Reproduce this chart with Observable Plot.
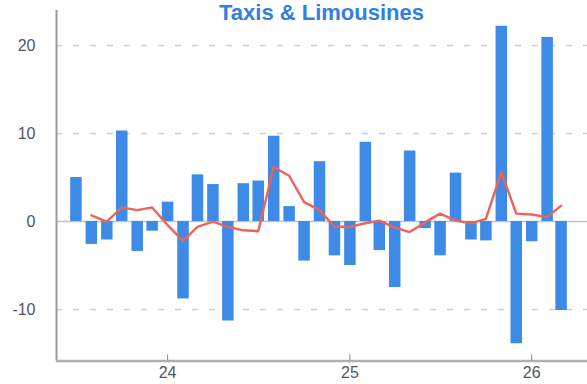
<!DOCTYPE html>
<html>
<head>
<meta charset="utf-8">
<script src="https://cdn.jsdelivr.net/npm/d3@7"></script>
<script src="https://cdn.jsdelivr.net/npm/@observablehq/plot@0.6"></script>
<style>
  html, body { margin: 0; padding: 0; background: #fff; overflow: hidden; }
  #wrap { position: relative; width: 587px; height: 384px; overflow: hidden; }
  #title { position: absolute; top: 0px; left: 56px; width: 531px; text-align: center;
           font: bold 22px "Liberation Sans", Arial, sans-serif; line-height: 26px; color: #2f80e4; }
</style>
</head>
<body>
<div id="wrap">
  <div id="chart"></div>
  <div id="title">Taxis &amp; Limousines</div>
</div>
<script>
const titleText = "Taxis & Limousines";

const barMonths = ["2023-07","2023-08","2023-09","2023-10","2023-11","2023-12",
  "2024-01","2024-02","2024-03","2024-04","2024-05","2024-06","2024-07","2024-08","2024-09","2024-10","2024-11","2024-12",
  "2025-01","2025-02","2025-03","2025-04","2025-05","2025-06","2025-07","2025-08","2025-09","2025-10","2025-11","2025-12",
  "2026-01","2026-02","2026-03"];
const barValues = [5.0,-2.6,-2.1,10.3,-3.4,-1.1,
  2.2,-8.8,5.3,4.2,-11.3,4.3,4.6,9.7,1.7,-4.5,6.8,-3.9,
  -5.0,9.0,-3.3,-7.5,8.0,-0.8,-3.9,5.5,-2.1,-2.2,22.2,-13.9,
  -2.3,20.9,-10.1];

const lineMonths = barMonths.slice(1);
const lineValues = [0.7,0.0,1.6,1.3,1.6,
  -0.4,-2.2,-0.6,0.0,-0.6,-1.0,-1.1,6.2,5.2,2.2,1.3,-0.6,
  -0.6,-0.2,0.1,-0.7,-1.2,-0.1,0.9,0.1,-0.2,0.3,5.6,0.9,
  0.8,0.5,1.8];

const yTicks = [-10, 0, 10, 20];
const gridTicks = [-10, 10, 20];
const xTickDates = ["2024-01","2025-01","2026-01"];
const xDomainStr = ["2023-05-23","2026-04-23"];
const yDomain = [-15.85, 23.98];

const parse = s => new Date(s.length === 7 ? s + "-01T00:00:00Z" : s + "T00:00:00Z");
const bars = barMonths.map((m, i) => ({date: parse(m), value: barValues[i]}));
const line = lineMonths.map((m, i) => ({date: parse(m), value: lineValues[i]}));
const xTicks = xTickDates.map(parse);
const xDomain = xDomainStr.map(parse);

const chart = Plot.plot({
  width: 587,
  height: 384,
  marginLeft: 56,
  marginRight: 0,
  marginTop: 10,
  marginBottom: 23.5,
  style: {fontFamily: "'Liberation Sans', Arial, sans-serif", fontSize: "16px", color: "#555", background: "#fff"},
  x: {type: "utc", domain: xDomain, label: null},
  y: {domain: yDomain, label: null},
  marks: [
    Plot.ruleY(gridTicks, {stroke: "#cfcfcf", strokeWidth: 1.5, strokeDasharray: "6,11"}),
    Plot.ruleY([0], {stroke: "#c4c4c4", strokeWidth: 1.5}),
    Plot.ruleX(bars, {x: "date", y1: 0, y2: "value", stroke: "#3d8be6", strokeWidth: 11.5}),
    Plot.line(line, {x: "date", y: "value", stroke: "#ef6258", strokeWidth: 2.4, curve: "linear"}),
    Plot.ruleX([xDomain[0]], {stroke: "#9a9a9a", strokeWidth: 2}),
    Plot.ruleY([yDomain[0]], {stroke: "#b0b0b0", strokeWidth: 2.5}),
    Plot.ruleX(xTicks, {y1: yDomain[0], y2: yDomain[0] + 0.7, stroke: "#888", strokeWidth: 1}),
    Plot.axisY({ticks: yTicks, tickSize: 0, tickPadding: 21, tickFormat: d => String(d), fill: "#555", label: null}),
    Plot.axisX({ticks: xTicks, tickSize: 0, tickPadding: 6, tickFormat: d3.utcFormat("%y"), fill: "#555", label: null})
  ]
});
document.getElementById("chart").appendChild(chart);
</script>
</body>
</html>
